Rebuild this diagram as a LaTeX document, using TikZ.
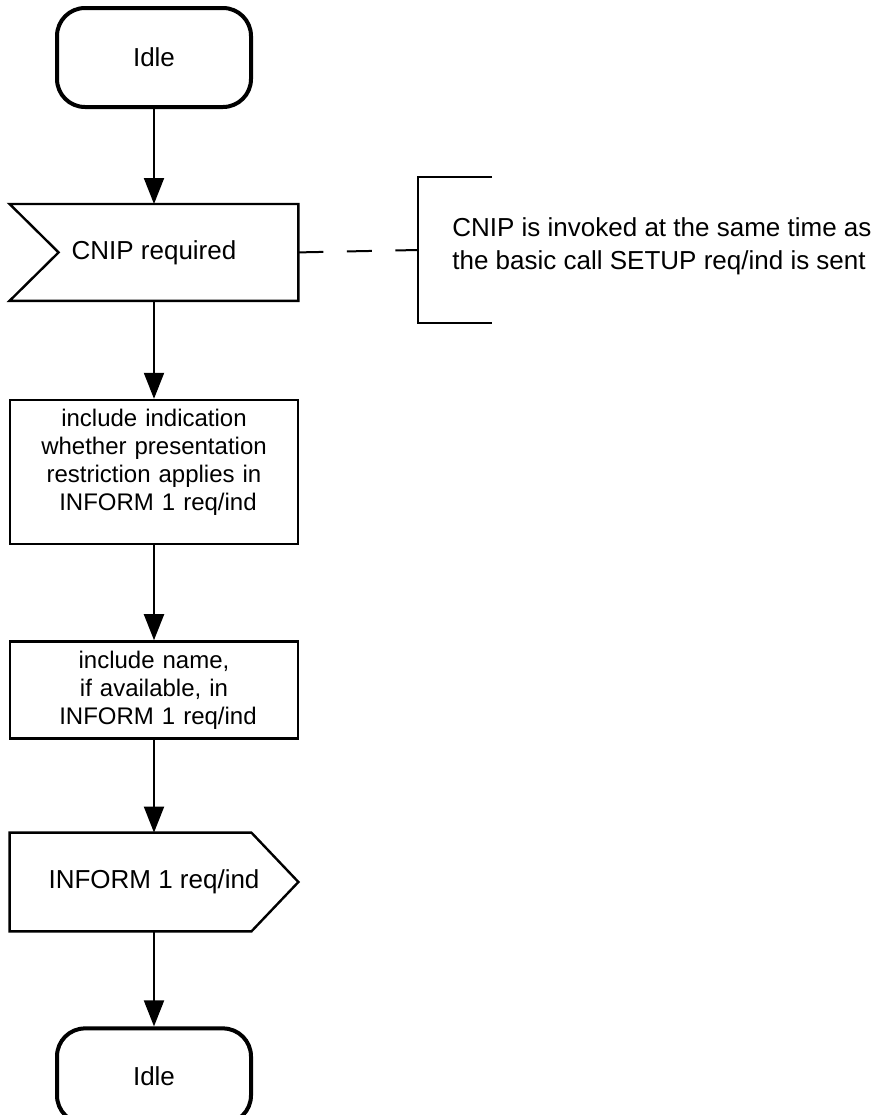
\documentclass[tikz,border=0pt]{standalone}
\usepackage{fontspec}
\setmainfont{Liberation Sans}
\usepackage{tikz}
\usetikzlibrary{positioning}
\usetikzlibrary{arrows.meta}
\tikzstyle{flow edge}=[-{Triangle[length=13pt,width=10pt]},line width=1pt]
\tikzstyle{state box}=[rectangle,draw,rounded corners=14pt,line width=2pt,minimum width=97pt,minimum height=49.5pt,font=\fontsize{13}{15}\selectfont]
\tikzstyle{task box}=[rectangle,draw,line width=1.2pt,text width=140pt,align=center,minimum width=144pt,inner xsep=2pt,font=\fontsize{12}{14}\selectfont]
\tikzstyle{signal box}=[rectangle,minimum width=144pt,minimum height=48pt,font=\fontsize{13}{15}\selectfont]
\tikzstyle{signal line}=[line width=1.2pt,line join=miter]
\tikzstyle{note text}=[rectangle,text width=250pt,align=flush left,minimum height=72.5pt,inner xsep=17pt,inner ysep=0pt,font=\fontsize{13}{16.5}\selectfont]
\tikzstyle{note line}=[line width=1pt]
\newcommand{\flownode}[3][]{
  \node [#1] (#2) {#3}
}

\begin{document}
\begin{tikzpicture}[x=0.5pt,y=-0.5pt]
        \useasboundingbox (0,0) rectangle (884,1115);
        \flownode[state box, at={(154,57.5)}] {idle1} {Idle};
        \flownode[signal box, below=47.5pt of idle1] {cnip} {CNIP required};
        \flownode[task box, minimum height=72pt, below=49pt of cnip] {incl1}
          {include indication\\whether presentation\\restriction applies in\\\hspace*{4pt}INFORM 1 req/ind\par\kern9.5pt};
        \flownode[task box, minimum height=48.5pt, below=47.5pt of incl1] {incl2}
          {include name,\\if available, in\\\hspace*{4pt}INFORM 1 req/ind};
        \flownode[signal box, minimum height=49pt, below=46.5pt of incl2] {inform} {INFORM 1 req/ind};
        \flownode[state box, minimum height=47.5pt, below=47.5pt of inform] {idle2} {Idle};

        % input and output signal outlines
        \draw[signal line] (cnip.north west) -- (cnip.north east) -- (cnip.south east)
          -- (cnip.south west) -- ([xshift=24.5pt]cnip.west) -- cycle;
        \draw[signal line] (inform.north west) -- ([xshift=-23.5pt]inform.north east) -- (inform.east)
          -- ([xshift=-23.5pt]inform.south east) -- (inform.south west) -- cycle;

        \draw[flow edge] (idle1) -- (cnip);
        \draw[flow edge] (cnip) -- (incl1);
        \draw[flow edge] (incl1) -- (incl2);
        \draw[flow edge] (incl2) -- (inform);
        \draw[flow edge] (inform) -- (idle2);

        % comment
        \flownode[note text, anchor=west, at={(418,250)}] {note}
          {CNIP is invoked at the same time as\\the basic call SETUP req/ind is sent\par\kern4pt};
        \draw[note line] ([xshift=37pt]note.north west) -- (note.north west)
          -- (note.south west) -- ([xshift=37pt]note.south west);
        \draw[note line, dash pattern=on 12.5pt off 11.75pt] (cnip.east) -- (note.west);
\end{tikzpicture}
\end{document}
